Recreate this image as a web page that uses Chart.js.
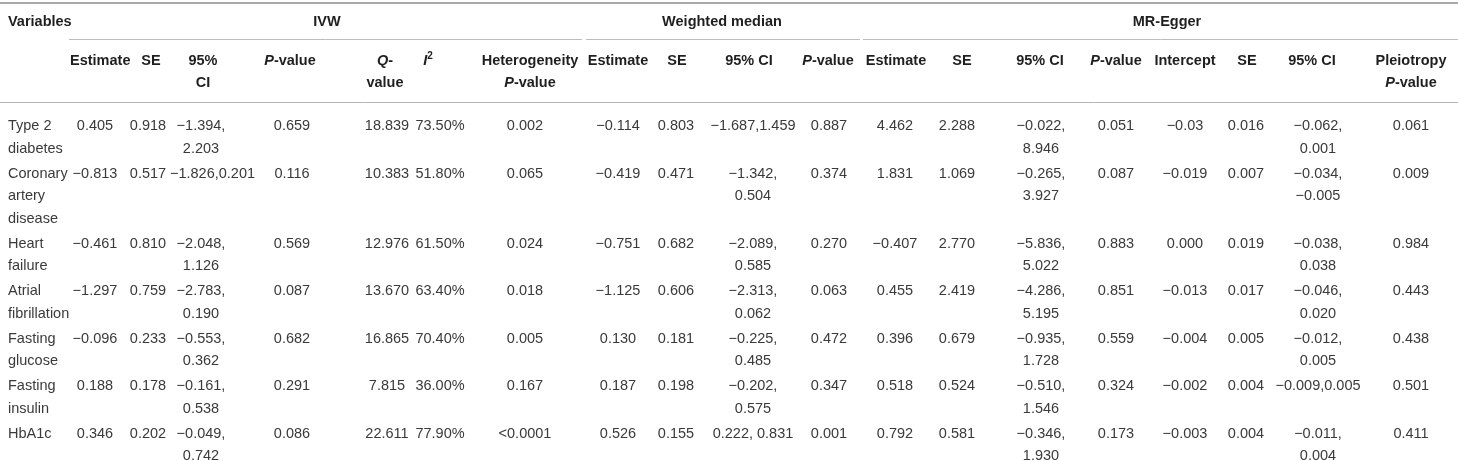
<!DOCTYPE html>
<html>
<head>
<meta charset="utf-8">
<script src="https://cdn.jsdelivr.net/npm/chart.js@4.4.1/dist/chart.umd.min.js"></script>
<style>
  html, body { margin: 0; padding: 0; background: #fff; }
  canvas { display: block; }
</style>
</head>
<body>
<canvas id="myChart" width="1458" height="461"></canvas>
<script>
// table values
const variables = ['Type 2 diabetes', 'Coronary artery disease', 'Heart failure', 'Atrial fibrillation', 'Fasting glucose', 'Fasting insulin', 'HbA1c']

const ivwEstimate = ['0.405', '−0.813', '−0.461', '−1.297', '−0.096', '0.188', '0.346']
const ivwSE = ['0.918', '0.517', '0.810', '0.759', '0.233', '0.178', '0.202']
const ivwCI = ['−1.394, 2.203', '−1.826,0.201', '−2.048, 1.126', '−2.783, 0.190', '−0.553, 0.362', '−0.161, 0.538', '−0.049, 0.742']
const ivwP = ['0.659', '0.116', '0.569', '0.087', '0.682', '0.291', '0.086']
const qValue = ['18.839', '10.383', '12.976', '13.670', '16.865', '7.815', '22.611']
const iSquared = ['73.50%', '51.80%', '61.50%', '63.40%', '70.40%', '36.00%', '77.90%']
const heterogeneityP = ['0.002', '0.065', '0.024', '0.018', '0.005', '0.167', '<0.0001']

const wmEstimate = ['−0.114', '−0.419', '−0.751', '−1.125', '0.130', '0.187', '0.526']
const wmSE = ['0.803', '0.471', '0.682', '0.606', '0.181', '0.198', '0.155']
const wmCI = ['−1.687,1.459', '−1.342, 0.504', '−2.089, 0.585', '−2.313, 0.062', '−0.225, 0.485', '−0.202, 0.575', '0.222, 0.831']
const wmP = ['0.887', '0.374', '0.270', '0.063', '0.472', '0.347', '0.001']

const eggerEstimate = ['4.462', '1.831', '−0.407', '0.455', '0.396', '0.518', '0.792']
const eggerSE = ['2.288', '1.069', '2.770', '2.419', '0.679', '0.524', '0.581']
const eggerCI = ['−0.022, 8.946', '−0.265, 3.927', '−5.836, 5.022', '−4.286, 5.195', '−0.935, 1.728', '−0.510, 1.546', '−0.346, 1.930']
const eggerP = ['0.051', '0.087', '0.883', '0.851', '0.559', '0.324', '0.173']
const intercept = ['−0.03', '−0.019', '0.000', '−0.013', '−0.004', '−0.002', '−0.003']
const interceptSE = ['0.016', '0.007', '0.019', '0.017', '0.005', '0.004', '0.004']
const interceptCI = ['−0.062, 0.001', '−0.034, −0.005', '−0.038, 0.038', '−0.046, 0.020', '−0.012, 0.005', '−0.009,0.005', '−0.011, 0.004']
const pleiotropyP = ['0.061', '0.009', '0.984', '0.443', '0.438', '0.501', '0.411']

const groupHeaders = ['IVW', 'Weighted median', 'MR-Egger']
// *x* = italic, ^x^ = superscript
const columnHeaders = [
  ['Estimate'], ['SE'], ['95%', 'CI'], ['*P*-value'], ['*Q*-', 'value'], ['*I*^2^'], ['Heterogeneity', '*P*-value'],
  ['Estimate'], ['SE'], ['95% CI'], ['*P*-value'],
  ['Estimate'], ['SE'], ['95% CI'], ['*P*-value'], ['Intercept'], ['SE'], ['95% CI'], ['Pleiotropy', '*P*-value']
]
const columnValues = [
  ivwEstimate, ivwSE, ivwCI, ivwP, qValue, iSquared, heterogeneityP,
  wmEstimate, wmSE, wmCI, wmP,
  eggerEstimate, eggerSE, eggerCI, eggerP, intercept, interceptSE, interceptCI, pleiotropyP
]

// layout (pixels)
const W = 1458
const H = 461
const FONT = '"Liberation Sans", Arial, sans-serif'
const SIZE = 14.5
const LINE = 22.5
const ROW_GAP = 2.5
const FIRST_ROW = 125
const varCol = { x: 8, w: 66 }
// x = centre of values, hx = centre of header, w = wrap width, spill = where too-wide text goes
const cols = [
  { x: 95, hx: 95, w: 50, spill: 'left' },
  { x: 148, hx: 151, w: 40 },
  { x: 201, hx: 203, w: 62, spill: 'left' },
  { x: 292, hx: 290, w: 70 },
  { x: 387, hx: 385, w: 52 },
  { x: 440, hx: 428, w: 56 },
  { x: 525, hx: 530, w: 100 },
  { x: 618, hx: 618, w: 66 },
  { x: 676, hx: 677, w: 40 },
  { x: 753, hx: 749, w: 85 },
  { x: 829, hx: 828, w: 66 },
  { x: 895, hx: 896, w: 66 },
  { x: 957, hx: 962, w: 40 },
  { x: 1041, hx: 1040, w: 64 },
  { x: 1116, hx: 1116, w: 62 },
  { x: 1185, hx: 1185, w: 70 },
  { x: 1246, hx: 1247, w: 40 },
  { x: 1318, hx: 1312, w: 64 },
  { x: 1411, hx: 1411, w: 80 }
]
const groupX = [327, 722, 1167]
const groupRule = [[69, 582], [586, 860], [863, 1458]]
const HEAD_Y = 21
const SUB_Y = [60, 81.5]

const measureCtx = document.createElement('canvas').getContext('2d')

function fontFor (bold, italic, sup) {
  return (italic ? 'italic ' : '') + (bold ? 'bold ' : '') + (sup ? 10 : SIZE) + 'px ' + FONT
}

function parseRich (str) {
  const segs = []
  let italic = false
  let sup = false
  let buf = ''
  for (const ch of str) {
    if (ch === '*' || ch === '^') {
      if (buf) segs.push({ t: buf, italic, sup })
      buf = ''
      if (ch === '*') italic = !italic
      else sup = !sup
    } else {
      buf += ch
    }
  }
  if (buf) segs.push({ t: buf, italic, sup })
  return segs
}

function richWidth (ctx, str, bold) {
  let w = 0
  parseRich(str).forEach(s => {
    ctx.font = fontFor(bold, s.italic, s.sup)
    w += ctx.measureText(s.t).width
  })
  return w
}

function wrap (text, width) {
  const words = text.split(' ')
  const lines = []
  let cur = ''
  words.forEach(word => {
    const test = cur ? cur + ' ' + word : word
    if (cur && richWidth(measureCtx, test, false) > width) {
      lines.push(cur)
      cur = word
    } else {
      cur = test
    }
  })
  if (cur) lines.push(cur)
  return lines
}

// one point per line of text
const cells = []

cells.push({ x: varCol.x, y: HEAD_Y, text: 'Variables', bold: true, align: 'left' })
groupHeaders.forEach((g, i) => cells.push({ x: groupX[i], y: HEAD_Y, text: g, bold: true }))
columnHeaders.forEach((lines, c) => {
  lines.forEach((t, k) => cells.push({ x: cols[c].hx, y: SUB_Y[k], text: t, bold: true, w: cols[c].w, spill: cols[c].spill }))
})

let rowY = FIRST_ROW
variables.forEach((name, r) => {
  const varLines = wrap(name, varCol.w)
  let maxLines = varLines.length
  varLines.forEach((t, k) => cells.push({ x: varCol.x, y: rowY + k * LINE, text: t, align: 'left' }))
  columnValues.forEach((values, c) => {
    const lines = wrap(values[r], cols[c].w)
    maxLines = Math.max(maxLines, lines.length)
    lines.forEach((t, k) => cells.push({ x: cols[c].x, y: rowY + k * LINE, text: t, w: cols[c].w, spill: cols[c].spill }))
  })
  rowY += maxLines * LINE + ROW_GAP
})

function rule (x0, x1, y, width, color) {
  return {
    type: 'line',
    data: [{ x: x0, y }, { x: x1, y }],
    borderColor: color,
    borderWidth: width,
    pointRadius: 0,
    clip: false
  }
}

const rules = [
  rule(0, W, 3, 2, '#a9a9a9'),
  ...groupRule.map(s => rule(s[0], s[1], 39.5, 1, '#bdbdbd')),
  rule(0, W, 102.5, 1, '#b5b5b5')
]

const cellText = {
  id: 'cellText',
  afterDatasetsDraw (chart) {
    const ctx = chart.ctx
    const idx = chart.data.datasets.length - 1
    const meta = chart.getDatasetMeta(idx)
    ctx.save()
    ctx.textBaseline = 'alphabetic'
    ctx.textAlign = 'left'
    meta.data.forEach((el, i) => {
      const cell = chart.data.datasets[idx].data[i]
      const w = richWidth(ctx, cell.text, cell.bold)
      let left
      if (cell.align === 'left') left = el.x
      else if (cell.spill === 'left' && w > cell.w) left = el.x - cell.w / 2
      else left = el.x - w / 2
      const base = el.y + 5
      ctx.fillStyle = cell.bold ? '#1f1f1f' : '#3a3a3a'
      parseRich(cell.text).forEach(s => {
        ctx.font = fontFor(cell.bold, s.italic, s.sup)
        ctx.fillText(s.t, left, s.sup ? base - 6 : base)
        left += ctx.measureText(s.t).width
      })
    })
    ctx.restore()
  }
}

new Chart(document.getElementById('myChart'), {
  type: 'scatter',
  data: {
    datasets: [
      ...rules,
      { label: 'cells', data: cells, pointRadius: 0, showLine: false, clip: false }
    ]
  },
  options: {
    responsive: false,
    animation: false,
    events: [],
    layout: { padding: 0 },
    scales: {
      x: { type: 'linear', min: 0, max: W, display: false },
      y: { type: 'linear', min: 0, max: H, reverse: true, display: false }
    },
    plugins: {
      legend: { display: false },
      tooltip: { enabled: false }
    }
  },
  plugins: [cellText]
})
</script>
</body>
</html>
